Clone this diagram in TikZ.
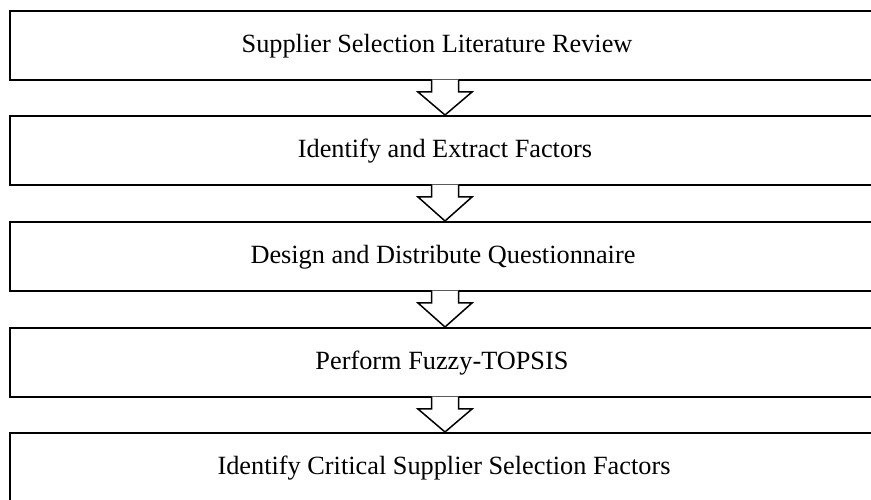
\documentclass[tikz,border=0pt]{standalone}
\usepackage{fontspec}
\setmainfont{Liberation Serif}

% hollow block arrow from the bottom edge of one box to the top edge of the next
\newcommand{\flowblockarrow}[2]{%
  \fill[white]
    ([xshift=-13.5pt,yshift=1.3pt]#1.south) --
    ([xshift=-13.5pt,yshift=-11pt]#1.south) --
    ([xshift=-27pt,yshift=-11pt]#1.south) --
    (#2.north) --
    ([xshift=27pt,yshift=-11pt]#1.south) --
    ([xshift=13.5pt,yshift=-11pt]#1.south) --
    ([xshift=13.5pt,yshift=1.3pt]#1.south) -- cycle;
  \draw[flowarrow]
    ([xshift=-13.5pt,yshift=1pt]#1.south) --
    ([xshift=-13.5pt,yshift=-11pt]#1.south) --
    ([xshift=-27pt,yshift=-11pt]#1.south) --
    (#2.north) --
    ([xshift=27pt,yshift=-11pt]#1.south) --
    ([xshift=13.5pt,yshift=-11pt]#1.south) --
    ([xshift=13.5pt,yshift=1pt]#1.south);%
}

\begin{document}
\begin{tikzpicture}[x=1pt,y=1pt,
  stepbox/.style={draw=black, line width=2pt, minimum width=871pt,
    minimum height=69pt, inner sep=0pt},
  steptext/.style={font=\fontsize{26.3}{30}\selectfont, anchor=base,
    inner sep=0pt},
  flowarrow/.style={draw=black, line width=1.5pt, line join=miter}]
\useasboundingbox (0,0) rectangle (871,500);

% the five process steps
\node[stepbox] (b1) at (445,454.5) {};
\node[stepbox] (b2) at (445,349.5) {};
\node[stepbox] (b3) at (445,243.5) {};
\node[stepbox] (b4) at (445,137.5) {};
\node[stepbox] (b5) at (445,32.5) {};

\node[steptext] (t1) at ([xshift=-8pt,yshift=-6.8pt]b1.center) {Supplier Selection Literature Review};
\node[steptext] (t2) at ([xshift=0pt,yshift=-6.8pt]b2.center) {Identify and Extract Factors};
\node[steptext] (t3) at ([xshift=-2pt,yshift=-6.8pt]b3.center) {Design and Distribute Questionnaire};
\node[steptext] (t4) at ([xshift=-3pt,yshift=-6.8pt]b4.center) {Perform Fuzzy-TOPSIS};
\node[steptext] (t5) at ([xshift=-1pt,yshift=-6.8pt]b5.center) {Identify Critical Supplier Selection Factors};

% arrows between consecutive steps
\flowblockarrow{b1}{b2}
\flowblockarrow{b2}{b3}
\flowblockarrow{b3}{b4}
\flowblockarrow{b4}{b5}
\end{tikzpicture}
\end{document}
